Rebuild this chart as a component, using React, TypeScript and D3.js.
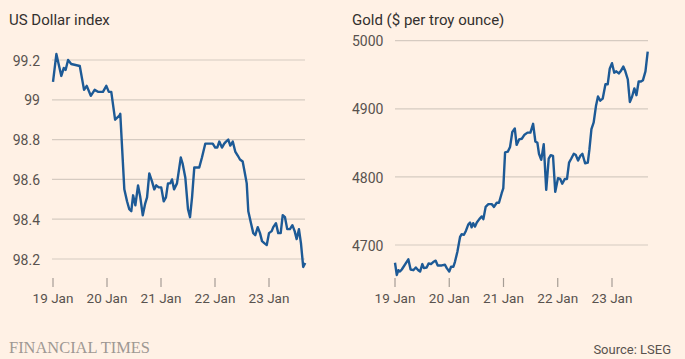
import React from "react";
import * as d3 from "d3";

// ---- Data (hours since 19 Jan 00:00) ----
const usdHours = [0, 1.5, 3.7, 4.8, 5.6, 6.7, 8.1, 11.9, 13.8, 15.0, 16.8, 18.5, 20.0, 22.2, 23.7, 24.8, 25.9, 27.6, 29.5, 29.9, 31.7, 32.9, 33.9, 34.8, 35.6, 36.6, 37.8, 38.8, 39.9, 41.0, 41.8, 42.8, 44.0, 45.0, 45.9, 47.0, 48.1, 49.2, 50.2, 51.1, 52.1, 52.9, 53.8, 55.1, 56.8, 57.6, 58.8, 60.0, 60.9, 61.8, 62.8, 63.9, 65.0, 66.2, 67.7, 68.8, 69.9, 71.0, 72.1, 73.0, 73.9, 75.1, 76.1, 76.9, 77.9, 78.8, 79.9, 81.0, 82.1, 83.1, 84.3, 85.3, 86.1, 86.8, 88.0, 89.0, 89.9, 91.0, 92.0, 92.9, 93.9, 95.0, 96.0, 97.2, 97.9, 99.1, 100.1, 101.2, 102.1, 103.1, 104.1, 105.3, 106.4, 107.4, 108.3, 109.3, 110.2, 111.2, 112.1];
const usdValues = [99.09, 99.23, 99.12, 99.16, 99.15, 99.20, 99.18, 99.17, 99.05, 99.07, 99.02, 99.05, 99.04, 99.04, 99.07, 99.04, 99.04, 98.90, 98.92, 98.93, 98.55, 98.49, 98.45, 98.44, 98.52, 98.47, 98.57, 98.51, 98.42, 98.48, 98.51, 98.63, 98.59, 98.55, 98.57, 98.56, 98.56, 98.49, 98.51, 98.58, 98.58, 98.60, 98.55, 98.58, 98.71, 98.68, 98.61, 98.45, 98.41, 98.51, 98.66, 98.66, 98.66, 98.71, 98.78, 98.78, 98.78, 98.78, 98.76, 98.76, 98.79, 98.76, 98.78, 98.79, 98.80, 98.77, 98.79, 98.74, 98.72, 98.70, 98.69, 98.63, 98.58, 98.44, 98.38, 98.33, 98.32, 98.36, 98.33, 98.29, 98.28, 98.27, 98.33, 98.34, 98.36, 98.38, 98.33, 98.33, 98.42, 98.41, 98.35, 98.35, 98.37, 98.34, 98.30, 98.35, 98.28, 98.16, 98.18];

const goldHours = [0, 0.8, 1.5, 2.2, 3.0, 5.9, 6.9, 8.1, 9.2, 10.3, 11.1, 12.1, 12.8, 14.0, 14.9, 15.9, 16.9, 18.0, 18.9, 20.7, 22.1, 22.9, 24.0, 24.8, 25.8, 26.5, 27.6, 28.8, 29.5, 30.5, 31.4, 32.4, 33.2, 33.9, 34.6, 35.4, 36.2, 37.3, 38.4, 39.1, 40.1, 41.3, 42.8, 43.8, 45.0, 46.0, 47.2, 47.9, 48.7, 49.9, 50.9, 51.9, 53.0, 53.8, 54.9, 56.1, 57.3, 58.6, 59.9, 61.1, 62.1, 63.0, 63.7, 64.7, 65.8, 66.9, 68.0, 68.9, 69.9, 70.9, 72.1, 73.1, 74.0, 75.1, 76.1, 77.0, 78.0, 79.1, 80.0, 81.0, 82.0, 82.9, 84.1, 85.3, 86.0, 86.9, 87.9, 88.9, 89.8, 90.8, 91.9, 93.1, 94.1, 95.0, 96.0, 97.0, 97.9, 99.0, 100.0, 101.0, 101.9, 103.0, 103.9, 104.9, 105.9, 106.8, 107.8, 108.8, 109.7, 110.8, 111.8];
const goldValues = [4674, 4656, 4663, 4661, 4664, 4679, 4664, 4663, 4667, 4663, 4661, 4672, 4666, 4667, 4673, 4672, 4675, 4677, 4670, 4670, 4671, 4666, 4661, 4668, 4668, 4675, 4690, 4712, 4716, 4715, 4721, 4730, 4733, 4726, 4732, 4727, 4733, 4738, 4742, 4738, 4756, 4760, 4760, 4756, 4762, 4762, 4776, 4783, 4836, 4837, 4844, 4866, 4871, 4847, 4855, 4856, 4862, 4865, 4865, 4878, 4852, 4850, 4834, 4825, 4848, 4781, 4827, 4832, 4831, 4778, 4798, 4797, 4790, 4797, 4797, 4821, 4827, 4834, 4832, 4824, 4831, 4834, 4820, 4821, 4840, 4870, 4880, 4904, 4918, 4912, 4915, 4936, 4936, 4959, 4967, 4953, 4955, 4952, 4956, 4962, 4955, 4943, 4910, 4918, 4930, 4920, 4940, 4940, 4942, 4955, 4984];

const usdTicks = [98.2, 98.4, 98.6, 98.8, 99, 99.2];
const goldTicks = [4700, 4800, 4900, 5000];
const dayLabels = ["19 Jan", "20 Jan", "21 Jan", "22 Jan", "23 Jan"];

const BG = "#fff1e5";
const LINE = "#1d5a96";
const GRID = "#d6cbc1";
const TEXT = "#33302e";
const MUTED = "#58524e";
const FONT = "Roboto, 'Liberation Sans', sans-serif";

const base = new Date(2026, 0, 19);
const toDate = (h: number) => new Date(base.getTime() + h * 3600 * 1000);
const dayDates = dayLabels.map((_, i) => d3.timeDay.offset(base, i));

type PanelProps = {
  title: string;
  hours: number[];
  values: number[];
  ticks: number[];
  yDomain: [number, number];
  yRange: [number, number];
  xStart: number;
  pxPerDay: number;
  gridX: [number, number];
  titleX: number;
  labelX: number;
  labelAnchor: "start" | "end";
};

function Panel(p: PanelProps) {
  const x = d3
    .scaleTime()
    .domain([base, d3.timeDay.offset(base, 5)])
    .range([p.xStart, p.xStart + 5 * p.pxPerDay]);
  const y = d3.scaleLinear().domain(p.yDomain).range(p.yRange);
  const pts = p.hours.map((h, i) => [toDate(h), p.values[i]] as [Date, number]);
  const line = d3
    .line<[Date, number]>()
    .x((d) => x(d[0]))
    .y((d) => y(d[1]));
  return (
    <g>
      <text x={p.titleX} y={25} fontSize={15} fill={TEXT} fontFamily={FONT}>
        {p.title}
      </text>
      {p.ticks.map((t) => (
        <g key={t}>
          <line x1={p.gridX[0]} x2={p.gridX[1]} y1={y(t)} y2={y(t)} stroke={GRID} strokeWidth={1.2} />
          <text
            x={p.labelX}
            y={y(t)}
            dy="0.4em"
            textAnchor={p.labelAnchor}
            fontSize={14}
            fill={MUTED}
            fontFamily={FONT}
          >
            {String(t)}
          </text>
        </g>
      ))}
      {dayDates.map((d, i) => (
        <g key={i}>
          <line x1={x(d)} x2={x(d)} y1={278} y2={287} stroke="#a59d95" strokeWidth={1.2} />
          <text x={x(d)} y={303} textAnchor="middle" fontSize={13.5} fill={MUTED} fontFamily={FONT}>
            {dayLabels[i]}
          </text>
        </g>
      ))}
      <path d={line(pts) || ""} fill="none" stroke={LINE} strokeWidth={2.4} strokeLinejoin="round" />
    </g>
  );
}

export default function App() {
  React.useEffect(() => {
    document.body.style.margin = "0";
    document.body.style.background = BG;
  }, []);
  return (
    <svg
      width={685}
      height={359}
      style={{ position: "absolute", left: 0, top: 0, display: "block", background: BG }}
    >
      <rect width={685} height={359} fill={BG} />
      <Panel
        title="US Dollar index"
        hours={usdHours}
        values={usdValues}
        ticks={usdTicks}
        yDomain={[98.2, 99.2]}
        yRange={[259, 60]}
        xStart={53}
        pxPerDay={54}
        gridX={[52, 305]}
        titleX={9}
        labelX={40}
        labelAnchor="end"
      />
      <Panel
        title="Gold ($ per troy ounce)"
        hours={goldHours}
        values={goldValues}
        ticks={goldTicks}
        yDomain={[4700, 5000]}
        yRange={[245, 40.7]}
        xStart={395}
        pxPerDay={54.25}
        gridX={[395, 648]}
        titleX={352}
        labelX={352}
        labelAnchor="start"
      />
      <text
        x={9}
        y={353}
        fontSize={17}
        fill="#9e9893"
        fontFamily="'Liberation Serif', 'DejaVu Serif', serif"
        textLength={141}
        lengthAdjust="spacingAndGlyphs"
      >
        FINANCIAL TIMES
      </text>
      <text x={671} y={354} textAnchor="end" fontSize={13} fill={MUTED} fontFamily={FONT}>
        Source: LSEG
      </text>
    </svg>
  );
}
